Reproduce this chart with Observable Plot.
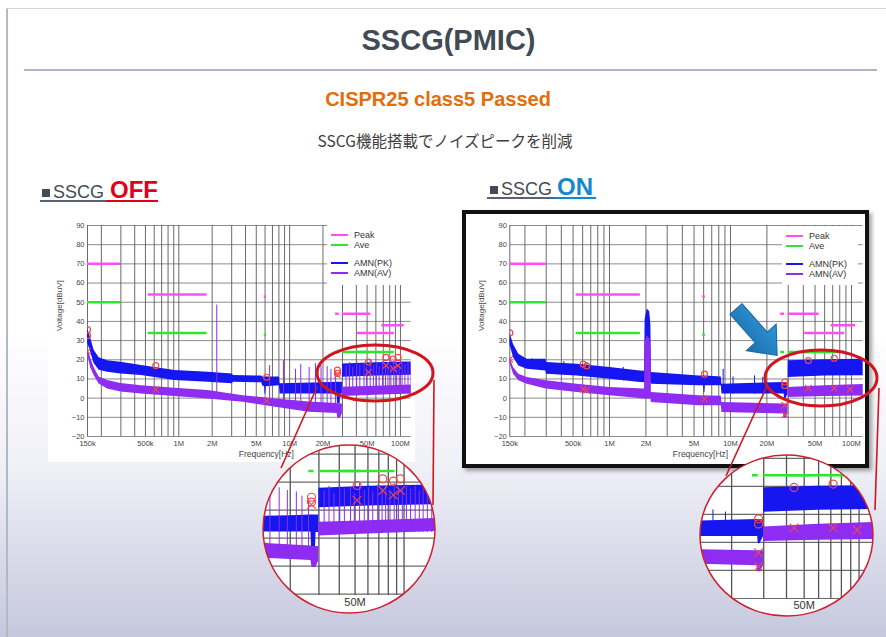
<!DOCTYPE html>
<html><head><meta charset="utf-8">
<script src="https://cdn.jsdelivr.net/npm/d3@7"></script>
<script src="https://cdn.jsdelivr.net/npm/@observablehq/plot@0.6"></script>
<style>
html,body{margin:0;padding:0;}
body{width:886px;height:637px;overflow:hidden;position:relative;
 background:linear-gradient(to bottom,#ffffff 0%,#ffffff 52%,#f0f0f7 73%,#c5c8dd 100%);
 font-family:"Liberation Sans",Arial,sans-serif;}
.a{position:absolute;}
.hd{white-space:nowrap;line-height:1;}
.sq{display:inline-block;width:8px;height:8px;background:#434b55;margin-right:3px;vertical-align:baseline;position:relative;top:-1px;}
.lg{position:absolute;background:#fff;font:9px "Liberation Sans",Arial,sans-serif;color:#333;}
.lg .row{position:absolute;left:0;height:10px;}
.lg .ln{position:absolute;left:4px;width:17px;}
.lg .tx{position:absolute;left:27px;top:-5px;line-height:10px;white-space:nowrap;}
.mag{position:absolute;background:#fff;clip-path:ellipse(50% 50% at 50% 50%);overflow:hidden;}
</style></head><body>
<div class="a" style="left:6px;top:8px;width:2px;height:629px;background:#b3b8c6;"></div>
<div class="a" style="left:6px;top:8px;width:880px;height:1px;background:#cfd3dc;"></div>
<div class="a hd" style="left:0;width:897px;top:26px;text-align:center;font-weight:bold;font-size:29px;color:#414b55;">SSCG(PMIC)</div>
<div class="a" style="left:24px;top:69px;width:853px;height:2px;background:#aeb5c2;"></div>
<div class="a hd" style="left:0;width:876px;top:89px;text-align:center;font-weight:bold;font-size:20px;color:#e46c0a;">CISPR25 class5 Passed</div>
<div class="a hd" style="left:0;width:890px;top:133px;text-align:center;font-size:15.5px;color:#404040;font-family:'Noto Sans CJK JP',sans-serif;">SSCG機能搭載でノイズピークを削減</div>

<div class="a hd" style="left:42px;top:178px;font-size:24px;"><span class="sq"></span><span style="font-size:18px;color:#434b55;">SSCG</span><span style="font-weight:bold;color:#e0001a;margin-left:6px;">OFF</span></div>
<div class="a" style="left:40px;top:200px;width:66px;height:2px;background:#5a6270;"></div>
<div class="a" style="left:106px;top:200px;width:52px;height:2px;background:#e0001a;"></div>

<div class="a hd" style="left:490px;top:175px;font-size:24px;"><span class="sq"></span><span style="font-size:18px;color:#434b55;">SSCG</span><span style="font-weight:bold;color:#1587cf;margin-left:5px;">ON</span></div>
<div class="a" style="left:487px;top:197px;width:68px;height:2px;background:#5a6270;"></div>
<div class="a" style="left:555px;top:197px;width:41px;height:2px;background:#1587cf;"></div>

<div class="a" style="left:48px;top:215px;width:367px;height:247px;background:#fff;"></div>
<div class="a" style="left:462px;top:210px;width:407px;height:258px;box-sizing:border-box;border:4px solid #111;background:#fff;box-shadow:3px 3px 4px rgba(0,0,0,0.35);"></div>

<div id="c1" class="a" style="left:48px;top:215px;"></div>
<div id="c2" class="a" style="left:466px;top:215px;"></div>
<div id="m1" class="mag" style="left:263px;top:445px;width:172px;height:168px;"></div>
<div id="m2" class="mag" style="left:700px;top:455px;width:173px;height:161px;"></div>

<svg class="a" style="left:0;top:0;pointer-events:none;" width="886" height="637">
 <defs><linearGradient id="ag" x1="0" y1="0" x2="0" y2="1"><stop offset="0" stop-color="#2f95d6"/><stop offset="1" stop-color="#1b70ae"/></linearGradient></defs>
 <ellipse cx="375" cy="373" rx="58" ry="28" fill="none" stroke="#d0151f" stroke-width="3"/>
 <ellipse cx="821" cy="378" rx="56" ry="28" fill="none" stroke="#d0151f" stroke-width="3"/>
 <line x1="317" y1="387" x2="281" y2="468" stroke="#d0151f" stroke-width="1.6"/>
 <line x1="434" y1="380" x2="433" y2="505" stroke="#d0151f" stroke-width="1.6"/>
 <line x1="767" y1="386" x2="726" y2="476" stroke="#d0151f" stroke-width="1.6"/>
 <line x1="879" y1="388" x2="875" y2="510" stroke="#d0151f" stroke-width="1.6"/>
 <ellipse cx="349" cy="529" rx="86" ry="84" fill="none" stroke="#cc2030" stroke-width="1.5"/>
 <ellipse cx="786.5" cy="535.5" rx="86.5" ry="80.5" fill="none" stroke="#cc2030" stroke-width="1.5"/>
 <g transform="translate(736,309) rotate(48.4)">
  <polygon points="0,-8 38,-8 38,-20 62,0 38,20 38,8 0,8" fill="url(#ag)" stroke="#1a659c" stroke-width="1"/>
 </g>
</svg>

<script>
// ---------- tick labels ----------
const xTickValues = [150e3, 500e3, 1e6, 2e6, 5e6, 10e6, 20e6, 50e6, 100e6];
const xTickLabels = ["150k", "500k", "1M", "2M", "5M", "10M", "20M", "50M", "100M"];
const yTickValues = [-20, -10, 0, 10, 20, 30, 40, 50, 60, 70, 80, 90];
const zoomTickValues = [50e6];
const zoomTickLabels = ["50M"];
const legendLabels = ["Peak", "Ave", "AMN(PK)", "AMN(AV)"];

// ---------- CISPR25 class5 limit lines ----------
const limitStart = [150e3, 530e3, 5.9e6, 26e6, 30e6, 41e6, 68e6];
const limitEnd   = [300e3, 1.8e6, 6.2e6, 28e6, 54e6, 88e6, 108e6];
const peakLimit  = [70, 54, 53, 44, 44, 34, 38];
const aveLimit   = [50, 34, 33, 24, 24, 24, 18];

// ---------- SSCG OFF ----------
const offPkFreq = [150e3,160e3,172e3,191e3,228e3,300e3,460e3,920e3,1.84e6,3.05e6,3.1e6,5.6e6,5.7e6,5.95e6,6.0e6,6.1e6,6.15e6,8.1e6,8.2e6,20e6,26.8e6,27e6,28.6e6,28.8e6,29.9e6,30e6,60e6,160e6];
const offPkHi   = [36,31.5,25,21,19.5,18.7,17,14.4,13.5,12.6,11.8,11.5,11,11,11,11,11,11,7.5,8,8.3,8.3,8.3,8.3,8.3,17.8,18.5,19];
const offPkLo   = [29,24,18,14.5,13.5,12.6,11.8,9.2,8.3,7.5,8.3,8,6.5,6,2,2,6,6.5,2.2,2.2,2.2,-3,-3,2,2,10.9,11.5,12];
const offAvFreq = [150e3,160e3,172e3,191e3,228e3,300e3,460e3,920e3,1.84e6,3.8e6,7.5e6,15e6,26.8e6,27.2e6,28.8e6,29.9e6,30e6,60e6,160e6];
const offAvHi   = [25.6,21,16,11,9.2,7.6,6.5,5.2,4,1.3,-0.4,-2,-2.8,-3,-3,-3,5.7,6.2,7];
const offAvLo   = [23,16,11.8,7.4,4.8,3.2,2.2,0.8,-0.4,-2.2,-4.7,-7.3,-8,-10.5,-10.5,-8.2,0.8,1.5,2.4];
const offSpikeFreq = [2.2e6,6.6e6,8.8e6,11.3e6,12.6e6,15e6,17.1e6,19.2e6,21.8e6,23.6e6,25.9e6,32.3e6,34.6e6,37.1e6,40.3e6,43e6,46.9e6,49.5e6,53.3e6,57e6,60.6e6,64.2e6,68.9e6,73.3e6,77.1e6,82e6,87e6,92.4e6,97.5e6,103.4e6,109.7e6,117e6,124e6,131e6,139e6,148e6];
const offSpikeTop  = [48.5,17,19.5,15,17.5,16,18,17,16.5,15,14,17,18.5,16,19,17.5,18,16,19.5,17,18,16.5,19,17.5,18.5,17,19.5,18,17,19,17.5,18.5,17,18,17.5,18];
const offSpikeBase = [0,-2,-3,-4,-4,-5,-6,-6,-6,-6,-6,2,2,2,2,2,2,2,2,2,2,2,2,2,2,2,2,2,2,2,2,2,2,2,2,2];
const offCircleFreq = [150e3,150e3,620e3,6.2e6,27e6,27e6,51.5e6,74e6,86e6,95e6];
const offCircleVal  = [35.7,32.6,17,10.9,14.6,12.9,18.8,21.2,20.4,21.2];
const offCrossFreq  = [150e3,620e3,6.2e6,27e6,51.5e6,74e6,86e6,95e6];
const offCrossVal   = [24.4,4.5,-1.3,12,13.5,17,15.4,17];

// ---------- SSCG ON ----------
const onPkFreq = [150e3,161e3,178e3,209e3,298e3,302e3,540e3,1.01e6,1.8e6,1.95e6,1.97e6,2.05e6,2.15e6,2.2e6,2.22e6,5.5e6,6.0e6,6.05e6,6.15e6,6.2e6,8.4e6,8.5e6,27.8e6,28e6,28.6e6,29.9e6,30e6,60e6,160e6];
const onPkHi   = [34.2,28,22.9,20.3,20.3,18.6,17.7,16,14.2,14,41,46.5,45,38,13.4,11.6,11.6,11.6,11.6,11.6,11,7.3,8.2,8.2,8.2,8,19.5,20,20.3];
const onPkLo   = [28,21.2,16.8,15.1,14.2,12.5,11.6,9.9,8.2,8,8,8,8,8,7.3,6.4,6.4,3,3,6.4,6.4,2.1,2.1,-0.5,-0.5,2,10.8,11.5,11.8];
const onAvFreq = [150e3,161e3,178e3,209e3,300e3,540e3,1.01e6,1.95e6,1.97e6,2.05e6,2.15e6,2.2e6,2.22e6,5.5e6,8.4e6,8.5e6,27.5e6,27.8e6,28.8e6,29.9e6,30e6,60e6,160e6];
const onAvHi   = [21.2,16,12.5,10.8,9,7.3,5.5,4.7,29,32.5,31,26,3,1.2,1,-2.3,-3,-3,-3,-3,5.5,6.5,7.3];
const onAvLo   = [18.6,12.5,9,7.3,4.7,2.9,1.2,-0.5,-0.5,-0.5,-0.5,-0.5,-2.3,-4,-4,-7.5,-8.3,-10.5,-10.5,-8.3,0.3,0.8,1.2];
const onSpikeFreq = [230e3,420e3,650e3,1.3e6,8.7e6,10.5e6,15.8e6,18.5e6];
const onSpikeTop  = [20.5,19,18.5,16,15,11,11.6,10.8];
const onSpikeBase = [15,12,11.6,9,6.4,2.1,2.1,2.1];
const onCircleFreq = [150e3,606e3,647e3,6.1e6,28.1e6,28.1e6,44e6,72e6];
const onCircleVal  = [34,17.7,16.8,12.5,8.4,6.6,19.6,20.8];
const onCrossFreq  = [150e3,606e3,647e3,6.1e6,28.1e6,28.1e6,44e6,72e6,97.6e6];
const onCrossVal   = [20.3,4.7,4,-0.5,-3.7,-8.6,5.2,5.2,4.5];

// ---------- styles ----------
const PK = "#1616f0", AV = "#8e2cf2", PEAK = "#ff4ff0", AVE = "#2ee62e", MARK = "#f04848";
const legendColors = [PEAK, AVE, PK, AV];

const zip3 = (f, a, b) => f.map((x, i) => ({f: x, a: a[i], b: b[i]}));
const zip2 = (f, v) => f.map((x, i) => ({f: x, v: v[i]}));
const limits = limitStart.map((s, i) => ({s, e: limitEnd[i], pk: peakLimit[i], av: aveLimit[i]}));
// 1-2-3-...-9 decade grid, taken from d3's log scale
const decadeGrid = d3.scaleLog().domain([1e5, 1e9]).ticks(60);
const gridIn = dom => decadeGrid.filter(v => v >= dom[0] && v <= dom[1]);

function dataMarks(d, r, spikeColor) {
  return [
    Plot.ruleY(limits, {y: "pk", x1: "s", x2: "e", stroke: PEAK, strokeWidth: 2.5, clip: true}),
    Plot.ruleY(limits, {y: "av", x1: "s", x2: "e", stroke: AVE, strokeWidth: 2.5, clip: true}),
    Plot.areaY(zip3(d.pkF, d.pkLo, d.pkHi), {x: "f", y1: "a", y2: "b", fill: PK, fillOpacity: 1, clip: true}),
    Plot.areaY(zip3(d.avF, d.avLo, d.avHi), {x: "f", y1: "a", y2: "b", fill: AV, fillOpacity: 1, clip: true}),
    Plot.ruleX(zip3(d.spF, d.spB, d.spT), {x: "f", y1: "a", y2: "b", stroke: spikeColor, strokeWidth: 1, clip: true}),
    Plot.dot(zip2(d.cF, d.cV), {x: "f", y: "v", r, stroke: MARK, strokeWidth: 1.2, clip: true}),
    Plot.dot(zip2(d.xF, d.xV), {x: "f", y: "v", r, symbol: "times", stroke: MARK, strokeWidth: 1.1, clip: true})
  ];
}

function mainChart(d, g) {
  const xDomain = [150e3, 125e6];
  const xGrid = [150e3].concat(gridIn(xDomain));
  return Plot.plot({
    width: g.w, height: 248,
    marginLeft: g.ml, marginRight: g.mr, marginTop: 10, marginBottom: 27,
    x: {type: "log", domain: xDomain, axis: null},
    y: {domain: [-20, 90]},
    style: {background: "transparent", fontFamily: "'Liberation Sans', Arial, sans-serif", overflow: "visible", color: "#444"},
    marks: [
      Plot.ruleY(yTickValues, {stroke: "#808080", strokeWidth: 0.9}),
      Plot.ruleX(xGrid, {stroke: "#5a5a5a", strokeWidth: 0.9}),
      ...dataMarks(d, 3, d.spColor),
      Plot.text(xTickValues, {x: v => v, text: v => xTickLabels[xTickValues.indexOf(v)], frameAnchor: "bottom", dy: 9.5, fontSize: 7.5, fill: "#444"}),
      Plot.axisY(yTickValues, {tickSize: 0, tickPadding: 3, fontSize: 7.5, label: null}),
      Plot.text(["Frequency[Hz]"], {frameAnchor: "bottom", dx: g.xlDx, dy: 20, fontSize: 8.5, fill: "#444"}),
      Plot.text(["Voltage[dBuV]"], {frameAnchor: "left", dx: -28, rotate: -90, fontSize: 8, fill: "#444"})
    ]
  });
}

function magChart(d, g) {
  const xGrid = gridIn(g.xd);
  return Plot.plot({
    width: g.w, height: g.h,
    marginLeft: 0, marginRight: 0, marginTop: 0, marginBottom: 18,
    x: {type: "log", domain: g.xd, axis: null},
    y: {domain: g.yd, axis: null},
    style: {background: "transparent", fontFamily: "'Liberation Sans', Arial, sans-serif", overflow: "visible", color: "#333"},
    marks: [
      Plot.ruleY(yTickValues.filter(v => v >= g.yd[0] && v <= g.yd[1]), {stroke: "#6a6a6a", strokeWidth: 1.2}),
      Plot.ruleX(xGrid, {stroke: "#555", strokeWidth: 1.3}),
      ...dataMarks(d, 4, d.spColor),
      Plot.text(zoomTickValues, {x: v => v, text: v => zoomTickLabels[zoomTickValues.indexOf(v)], frameAnchor: "bottom", dy: 10, fontSize: 11, fill: "#333"})
    ]
  });
}

const off = {pkF: offPkFreq, pkLo: offPkLo, pkHi: offPkHi, avF: offAvFreq, avLo: offAvLo, avHi: offAvHi,
  spF: offSpikeFreq, spB: offSpikeBase, spT: offSpikeTop, spColor: AV,
  cF: offCircleFreq, cV: offCircleVal, xF: offCrossFreq, xV: offCrossVal};
const on = {pkF: onPkFreq, pkLo: onPkLo, pkHi: onPkHi, avF: onAvFreq, avLo: onAvLo, avHi: onAvHi,
  spF: onSpikeFreq, spB: onSpikeBase, spT: onSpikeTop, spColor: PK,
  cF: onCircleFreq, cV: onCircleVal, xF: onCrossFreq, xV: onCrossVal};

document.getElementById("c1").append(mainChart(off, {w: 367, ml: 39, mr: 4.3, xlDx: 17}));
document.getElementById("c2").append(mainChart(on, {w: 398, ml: 43.3, mr: 1.3, xlDx: 14}));
document.getElementById("m1").append(magChart(off, {w: 172, h: 168, xd: [13.7e6, 156e6], yd: [-20.5, 33.1]}));
document.getElementById("m2").append(magChart(on, {w: 173, h: 161, xd: [13.5e6, 120e6], yd: [-20, 31]}));

// legends
function legend(left, top, w, h) {
  const box = document.createElement("div");
  box.className = "lg";
  box.style.cssText = `left:${left}px;top:${top}px;width:${w}px;height:${h}px;`;
  const rows = [10, 20, 38, 48];
  legendLabels.forEach((lab, i) => {
    const row = document.createElement("div");
    row.className = "row";
    row.style.top = rows[i] + "px";
    const ln = document.createElement("div");
    ln.className = "ln";
    const th = i < 2 ? 2.5 : 1.3;
    ln.style.cssText = `top:${-th / 2}px;height:${th}px;background:${legendColors[i]};`;
    const tx = document.createElement("div");
    tx.className = "tx";
    tx.textContent = lab;
    row.append(ln, tx);
    box.append(row);
  });
  document.body.insertBefore(box, document.querySelector("svg.a"));
}
legend(327, 225, 84, 60);
legend(782, 226, 76, 59);
</script>
</body></html>
